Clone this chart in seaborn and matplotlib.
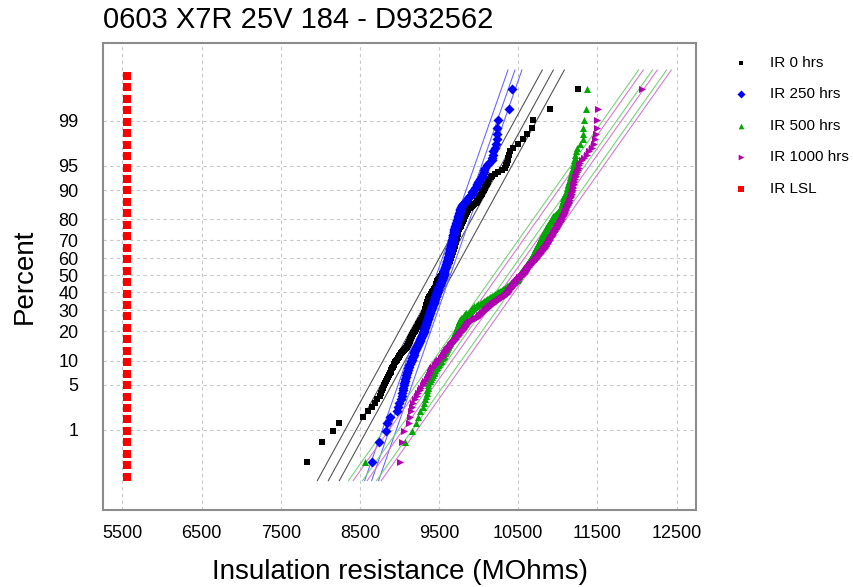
import numpy as np
import pandas as pd
import seaborn as sns
import matplotlib
matplotlib.use("Agg")
import matplotlib.pyplot as plt
from statistics import NormalDist

# sorted insulation resistance readings (MOhms)
ir_0 = [7828, 8018, 8156, 8240, 8543, 8606, 8653, 8691, 8716, 8754,
        8765, 8778, 8790, 8803, 8815, 8828, 8841, 8853, 8866, 8880,
        8889, 8899, 8908, 8918, 8927, 8936, 8946, 8955, 8965,
        8976, 8988, 8999, 9011, 9022, 9034, 9045, 9057, 9068, 9080, 9091,
        9097, 9103, 9109, 9115, 9121, 9127, 9133, 9139, 9144, 9150, 9156, 9162, 9168, 9174,
        9180, 9186, 9192, 9198, 9204, 9210, 9216, 9222, 9228, 9234, 9240, 9246, 9252, 9258,
        9264, 9270, 9276, 9282, 9288, 9294, 9300,
        9302, 9305, 9307, 9310, 9312, 9314, 9317, 9319, 9322, 9324, 9326, 9329, 9331, 9334,
        9336, 9338, 9341, 9343, 9346, 9348, 9350, 9353, 9355, 9358, 9360,
        9365, 9369, 9374, 9378, 9383, 9388, 9392, 9397, 9401, 9406, 9410, 9415, 9420, 9424,
        9429, 9433, 9438, 9442, 9447, 9452, 9456, 9461,
        9462, 9464, 9465, 9467, 9468, 9470, 9471, 9473,
        9479, 9485, 9491, 9496, 9502, 9508, 9514, 9520, 9526, 9531, 9537, 9543, 9549,
        9551, 9553, 9556, 9558, 9560,
        9564, 9569, 9573, 9577, 9582, 9586, 9590, 9595, 9599, 9603, 9608, 9612, 9616, 9621,
        9625, 9629, 9634, 9638,
        9641, 9643, 9646, 9648, 9651, 9654, 9656, 9659, 9662, 9664, 9667, 9669, 9672, 9675,
        9677, 9680, 9683, 9685, 9688, 9690, 9693, 9696, 9698, 9701,
        9703, 9705, 9707, 9709, 9711, 9713, 9715, 9717, 9719, 9721, 9723, 9725, 9727, 9729,
        9731, 9733, 9735, 9737, 9739, 9740, 9742,
        9747, 9752, 9757, 9761, 9766, 9771, 9776, 9781, 9786, 9790, 9795, 9800, 9805,
        9809, 9813, 9818, 9822, 9826, 9830,
        9837, 9843, 9850, 9857, 9863, 9870,
        9885, 9900, 9915, 9930, 9945, 9960, 9975,
        9983, 9991, 10000, 10008, 10016,
        10026, 10037, 10047, 10058,
        10067, 10076, 10085, 10094, 10103, 10112, 10121,
        10135, 10150, 10164,
        10205, 10247, 10290, 10332, 10345, 10357,
        10367, 10376, 10386, 10395, 10437, 10500, 10555, 10606, 10669, 10689, 10906, 11257]

ir_250 = [8649, 8735, 8829, 8842, 8880, 8968, 8987, 9000, 9013, 9028,
          9034, 9041, 9047, 9053, 9060, 9066, 9072, 9078, 9085, 9091,
          9098, 9105, 9112, 9119, 9126, 9133, 9140, 9147, 9154,
          9160, 9165, 9171, 9177, 9182, 9188, 9194, 9200, 9205, 9211, 9217,
          9223, 9229, 9235, 9241, 9247, 9253, 9259, 9264, 9270, 9276, 9282, 9288, 9294, 9300,
          9303, 9306, 9309, 9312, 9315, 9318, 9321, 9324, 9327, 9330, 9333, 9336, 9340, 9343,
          9346, 9349, 9352, 9355, 9358, 9361, 9364,
          9367, 9370, 9373, 9377, 9380, 9383, 9386, 9389, 9392, 9396, 9399, 9402, 9405, 9408,
          9411, 9414, 9417, 9421, 9424, 9427,
          9430, 9432, 9435, 9437, 9440, 9443, 9445, 9448, 9450, 9453, 9456, 9458, 9461, 9463,
          9466, 9469, 9471, 9474, 9476, 9479, 9482, 9484, 9487, 9489, 9492,
          9495, 9499, 9502, 9506, 9509, 9512, 9516, 9519, 9523, 9526, 9529, 9533, 9536, 9540,
          9543, 9546, 9550, 9553,
          9554, 9555, 9556, 9557, 9558, 9559, 9560, 9560, 9561, 9562,
          9565, 9568, 9571, 9573, 9576, 9579, 9582, 9585, 9588, 9590, 9593, 9596,
          9598, 9600, 9602, 9604, 9606, 9607, 9609, 9611, 9613, 9615, 9617, 9619, 9621, 9623,
          9625, 9626, 9628, 9630, 9632, 9634, 9636, 9638,
          9640, 9642, 9644, 9646, 9648, 9650, 9652, 9654, 9656, 9658, 9660, 9661, 9663, 9665,
          9667, 9669, 9671, 9673, 9675, 9677, 9679,
          9680, 9682, 9683, 9684, 9686, 9687, 9689, 9690,
          9693, 9697, 9700, 9703, 9706, 9709, 9713, 9716, 9719, 9722, 9726, 9729, 9732,
          9735, 9738, 9741, 9744, 9747, 9749, 9752, 9755, 9758, 9761, 9764,
          9768, 9771, 9775, 9785, 9795, 9805,
          9817, 9829, 9841, 9854, 9866, 9878, 9890,
          9901, 9911, 9922, 9932, 9943, 9954, 9964, 9975,
          9983, 9992, 10000, 10019, 10038,
          10046, 10054, 10063, 10071, 10079,
          10107, 10136, 10164,
          10171, 10178, 10185, 10206, 10220, 10230, 10235, 10237, 10240, 10386, 10420]

ir_500 = [8564, 9069, 9154, 9208, 9233, 9259, 9297, 9309, 9325, 9341,
          9347, 9353, 9357, 9362, 9366, 9381, 9395, 9410,
          9420, 9431, 9441, 9452, 9462, 9473,
          9484, 9496, 9507, 9519, 9530, 9542, 9553,
          9560, 9566, 9573, 9579, 9586, 9592, 9599, 9605, 9612, 9618, 9625, 9631, 9638,
          9644, 9651, 9657, 9663, 9670, 9676, 9682, 9688, 9695, 9701,
          9705, 9708, 9712, 9716, 9720, 9723, 9727, 9731, 9734, 9738, 9742, 9746, 9749, 9753,
          9757, 9760, 9764,
          9774, 9783, 9793, 9802, 9810, 9817, 9825, 9832, 9840, 9865, 9890,
          9896, 9903, 9909, 9916, 9922, 9928, 9935, 9941,
          9960, 9979, 9997, 10016,
          10029, 10041, 10054, 10067, 10079, 10092,
          10105, 10117, 10130, 10142, 10155, 10168, 10180, 10193, 10205, 10218,
          10230, 10242, 10255, 10267, 10279, 10292, 10304, 10316, 10328, 10341, 10353,
          10363, 10372, 10382, 10391, 10401, 10410, 10420,
          10435, 10450, 10465, 10480,
          10484, 10487, 10491, 10495, 10499, 10502, 10506, 10510, 10514, 10517, 10521,
          10527, 10532, 10538, 10543, 10549, 10554, 10560, 10565, 10571, 10576, 10582, 10587,
          10593, 10598, 10604, 10609, 10615, 10620, 10626, 10631, 10637, 10642, 10648,
          10652, 10656, 10660, 10664, 10668, 10672, 10676, 10680, 10684, 10689, 10693, 10697,
          10701, 10705, 10709, 10713, 10717, 10721, 10725, 10729, 10733, 10737, 10741, 10745,
          10749, 10753, 10758, 10762, 10766, 10770, 10774,
          10779, 10783, 10788, 10793, 10797, 10802, 10807, 10811, 10816, 10821, 10825, 10830,
          10835, 10839, 10844, 10849, 10853, 10858,
          10864, 10871, 10877, 10884, 10890, 10897, 10903, 10910, 10916, 10923, 10929, 10936, 10942,
          10954, 10966, 10978, 10990, 11002, 11014, 11026,
          11031, 11036, 11042, 11047, 11052,
          11055, 11058, 11061, 11064, 11068, 11071, 11074, 11077,
          11086, 11094, 11103, 11111,
          11116, 11120, 11125, 11130, 11134, 11139, 11144, 11148, 11153,
          11160, 11167, 11173, 11180, 11187, 11194,
          11200, 11205, 11211, 11216,
          11226, 11237, 11279, 11313, 11315, 11321, 11329, 11361, 11371]

ir_1000 = [9006, 9028, 9057, 9120, 9139, 9151, 9164, 9174, 9195, 9217,
           9238, 9259, 9276, 9293, 9310, 9326, 9343, 9360, 9370, 9379,
           9391, 9403, 9415, 9427, 9443, 9458, 9474, 9489, 9505, 9520, 9536,
           9545, 9555, 9564, 9573, 9583, 9592, 9601, 9611, 9620,
           9632, 9643, 9655, 9667, 9678, 9690,
           9699, 9709, 9718, 9727, 9737, 9746, 9755, 9765, 9774, 9783, 9793, 9802,
           9809, 9816, 9823, 9830, 9837, 9844, 9851, 9858, 9865,
           9881, 9896, 9912, 9928, 9944, 9959, 9975, 9991,
           10001, 10010, 10020, 10029, 10039, 10048, 10058,
           10068, 10078, 10087, 10097, 10107, 10117, 10127, 10136, 10146, 10156, 10166, 10175, 10185,
           10197, 10209, 10222, 10234, 10246, 10258, 10270, 10283, 10295, 10307,
           10316, 10325, 10335, 10344, 10353,
           10359, 10365, 10370, 10376, 10382, 10388, 10393, 10399, 10405, 10411, 10417, 10422,
           10428, 10434, 10440, 10445, 10451, 10457, 10463, 10468, 10474, 10480,
           10487, 10494, 10501, 10507, 10514, 10521,
           10531, 10541, 10552, 10562, 10572,
           10576, 10581, 10585, 10590, 10594, 10598, 10603, 10607, 10612, 10616,
           10623, 10630, 10638, 10645, 10652, 10659, 10666, 10673,
           10680, 10686, 10693, 10699, 10706, 10713, 10719, 10726, 10733, 10739, 10746, 10753,
           10759, 10766, 10772, 10779, 10786, 10792, 10799, 10806, 10812,
           10817, 10823, 10828, 10833, 10838, 10844, 10849, 10854, 10859, 10865, 10870, 10875,
           10880, 10886, 10891, 10896, 10901, 10907, 10912, 10917, 10922, 10928, 10933, 10938,
           10944, 10949, 10955, 10961, 10966, 10972, 10978, 10984, 10989, 10995, 11001, 11006,
           11012, 11018, 11024, 11029, 11035, 11041, 11047, 11052, 11058, 11064,
           11069, 11074, 11079, 11084, 11089, 11094, 11099, 11104, 11109, 11114, 11120, 11125,
           11130, 11135, 11140, 11145, 11150, 11155, 11160, 11165,
           11169, 11173, 11177, 11181, 11185, 11189, 11193, 11196, 11200, 11204, 11208, 11212, 11216,
           11225, 11234, 11243, 11252, 11261, 11270, 11279,
           11307, 11335, 11363, 11395, 11427, 11456, 11468, 11481, 11490, 11497, 11506, 12066]

series_names = ["IR 0 hrs", "IR 250 hrs", "IR 500 hrs", "IR 1000 hrs"]
series_values = [ir_0, ir_250, ir_500, ir_1000]

# fitted normal lines (mean, sd) and the offset of the two side lines
fit_mean = [9522, 9553, 10364, 10424]
fit_sd = [460, 293, 593, 593]
fit_band = [139, 88, 177, 177]

lsl_value = 5555
lsl_count = 36

pct_ticks = [1, 5, 10, 20, 30, 40, 50, 60, 70, 80, 90, 95, 99]

nd = NormalDist()


def probit(p):
    return np.array([nd.inv_cdf(float(v)) for v in p])


frames = []
for name, vals in zip(series_names, series_values):
    n = len(vals)
    ranks = np.arange(1, n + 1)
    pos = (ranks - 0.3) / (n + 0.4)  # median ranks
    frames.append(pd.DataFrame({"value": np.sort(vals), "z": probit(pos), "series": name}))
df = pd.concat(frames, ignore_index=True)

sns.set_style("white")
plt.rcParams["font.family"] = ["Liberation Sans", "DejaVu Sans"]
plt.rcParams["text.color"] = "black"
plt.rcParams["axes.labelcolor"] = "black"

fig = plt.figure(figsize=(8.54, 5.87), dpi=100)
ax = fig.add_axes([0.121, 0.1312, 0.6945, 0.7961])

point_colors = ["#000000", "#0000ff", "#00a800", "#b000b0"]
line_colors = ["#555555", "#6a6aff", "#7ad27a", "#d47ad4"]
markers = ["s", "D", "^", ">"]
sizes = [14, 26, 26, 26]

zline = np.array([nd.inv_cdf(0.001), nd.inv_cdf(0.999)])
for i in range(4):
    for off in (-fit_band[i], 0, fit_band[i]):
        ax.plot(fit_mean[i] + off + fit_sd[i] * zline, zline,
                color=line_colors[i], lw=0.8, zorder=2)

for i, name in enumerate(series_names):
    sns.scatterplot(data=df[df["series"] == name], x="value", y="z", ax=ax,
                    color=point_colors[i], marker=markers[i], s=sizes[i],
                    linewidth=0, label=name, zorder=3)

lsl = pd.DataFrame({"value": [lsl_value] * lsl_count,
                    "z": np.linspace(-3.03, 3.0, lsl_count)})
sns.scatterplot(data=lsl, x="value", y="z", ax=ax, color="#ff0000", marker="s",
                s=34, linewidth=0, label="IR LSL", zorder=3)

ax.set_xlim(5260, 12750)
ax.set_ylim(-3.53, 3.50)
ax.set_xticks(range(5500, 12501, 1000))
ax.set_yticks(probit(np.array(pct_ticks) / 100))
ax.set_yticklabels([str(p) for p in pct_ticks])

ax.grid(True, linestyle=(0, (3, 3)), color="#c8c8c8", linewidth=0.8)
ax.set_axisbelow(True)
for sp in ax.spines.values():
    sp.set_color("#8c8c8c")
    sp.set_linewidth(1.5)
ax.tick_params(axis="both", direction="out", length=8, width=1.2, color="#8c8c8c",
               labelsize=13, labelcolor="black")
ax.tick_params(axis="x", pad=3)
ax.tick_params(axis="y", pad=10)

ax.set_xlabel("Insulation resistance (MOhms)", fontsize=20)
ax.set_ylabel("Percent", fontsize=20)
ax.xaxis.set_label_coords(0.5, -0.104)
ax.yaxis.set_label_coords(-0.11, 0.5)

fig.text(103 / 854, 1 - 20 / 587, "0603 X7R 25V 184 - D932562", ha="left", va="center",
         fontsize=21, color="black")

ax.get_legend().remove()
handles, labels = ax.get_legend_handles_labels()
fig.legend(handles, labels, loc="upper left", bbox_to_anchor=(712 / 854, 1 - 42 / 587),
           frameon=False, fontsize=11, labelspacing=1.15, handletextpad=0.9,
           markerscale=0.8, labelcolor="black")

fig.savefig("out.png", dpi=100, facecolor="white")
